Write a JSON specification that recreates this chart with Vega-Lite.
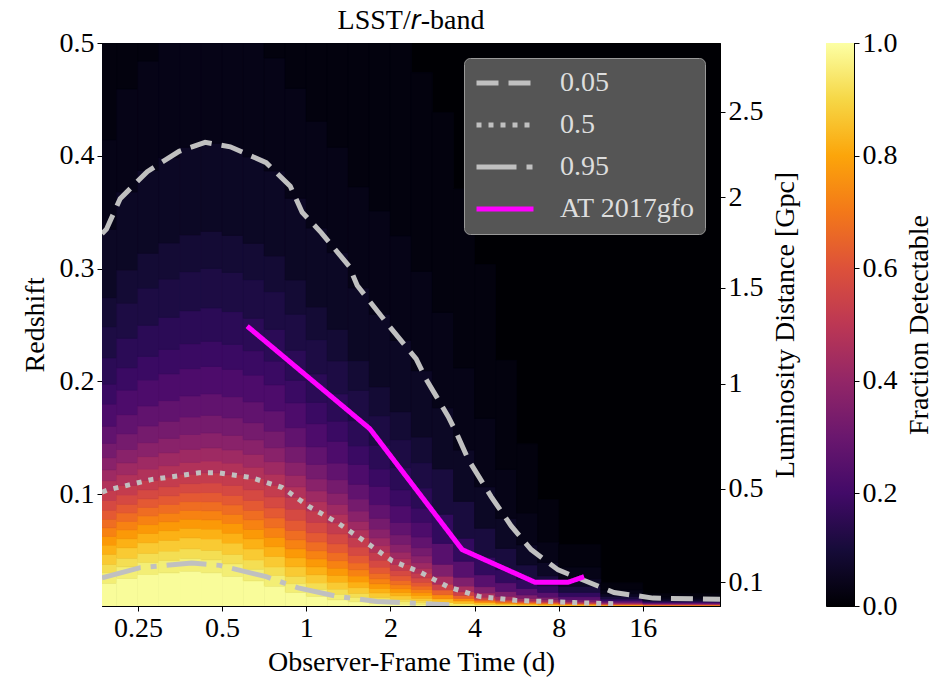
{
"$schema":"https://vega.github.io/schema/vega-lite/v6.json",
"padding":{"left":20,"top":6,"right":5,"bottom":0},
"background":"white",
"bounds":"flush",
"spacing":106,
"datasets":{
"heat":[
{"t0":0.1768,"t1":0.2102,"z0":0.001,"z1":0.0212,"f":0.99},{"t0":0.1768,"t1":0.2102,"z0":0.0212,"z1":0.0306,"f":0.952},{"t0":0.1768,"t1":0.2102,"z0":0.0306,"z1":0.038,"f":0.917},{"t0":0.1768,"t1":0.2102,"z0":0.038,"z1":0.0469,"f":0.875},{"t0":0.1768,"t1":0.2102,"z0":0.0469,"z1":0.055,"f":0.825},{"t0":0.1768,"t1":0.2102,"z0":0.055,"z1":0.0627,"f":0.775},{"t0":0.1768,"t1":0.2102,"z0":0.0627,"z1":0.0703,"f":0.725},{"t0":0.1768,"t1":0.2102,"z0":0.0703,"z1":0.078,"f":0.675},{"t0":0.1768,"t1":0.2102,"z0":0.078,"z1":0.086,"f":0.625},{"t0":0.1768,"t1":0.2102,"z0":0.086,"z1":0.0945,"f":0.575},{"t0":0.1768,"t1":0.2102,"z0":0.0945,"z1":0.1035,"f":0.525},{"t0":0.1768,"t1":0.2102,"z0":0.1035,"z1":0.1121,"f":0.475},{"t0":0.1768,"t1":0.2102,"z0":0.1121,"z1":0.1217,"f":0.425},{"t0":0.1768,"t1":0.2102,"z0":0.1217,"z1":0.1325,"f":0.375},{"t0":0.1768,"t1":0.2102,"z0":0.1325,"z1":0.1452,"f":0.325},{"t0":0.1768,"t1":0.2102,"z0":0.1452,"z1":0.1604,"f":0.275},{"t0":0.1768,"t1":0.2102,"z0":0.1604,"z1":0.18,"f":0.225},{"t0":0.1768,"t1":0.2102,"z0":0.18,"z1":0.1977,"f":0.183},{"t0":0.1768,"t1":0.2102,"z0":0.1977,"z1":0.221,"f":0.148},{"t0":0.1768,"t1":0.2102,"z0":0.221,"z1":0.2486,"f":0.115},{"t0":0.1768,"t1":0.2102,"z0":0.2486,"z1":0.2744,"f":0.09},{"t0":0.1768,"t1":0.2102,"z0":0.2744,"z1":0.335,"f":0.065},{"t0":0.1768,"t1":0.2102,"z0":0.335,"z1":0.4144,"f":0.04},{"t0":0.1768,"t1":0.2102,"z0":0.4144,"z1":0.5,"f":0.022},
{"t0":0.2102,"t1":0.25,"z0":0.001,"z1":0.0255,"f":0.99},{"t0":0.2102,"t1":0.25,"z0":0.0255,"z1":0.0357,"f":0.952},{"t0":0.2102,"t1":0.25,"z0":0.0357,"z1":0.0434,"f":0.917},{"t0":0.2102,"t1":0.25,"z0":0.0434,"z1":0.0526,"f":0.875},{"t0":0.2102,"t1":0.25,"z0":0.0526,"z1":0.0607,"f":0.825},{"t0":0.2102,"t1":0.25,"z0":0.0607,"z1":0.0684,"f":0.775},{"t0":0.2102,"t1":0.25,"z0":0.0684,"z1":0.0759,"f":0.725},{"t0":0.2102,"t1":0.25,"z0":0.0759,"z1":0.0835,"f":0.675},{"t0":0.2102,"t1":0.25,"z0":0.0835,"z1":0.0912,"f":0.625},{"t0":0.2102,"t1":0.25,"z0":0.0912,"z1":0.0994,"f":0.575},{"t0":0.2102,"t1":0.25,"z0":0.0994,"z1":0.108,"f":0.525},{"t0":0.2102,"t1":0.25,"z0":0.108,"z1":0.1174,"f":0.475},{"t0":0.2102,"t1":0.25,"z0":0.1174,"z1":0.1279,"f":0.425},{"t0":0.2102,"t1":0.25,"z0":0.1279,"z1":0.1397,"f":0.375},{"t0":0.2102,"t1":0.25,"z0":0.1397,"z1":0.1537,"f":0.325},{"t0":0.2102,"t1":0.25,"z0":0.1537,"z1":0.1706,"f":0.275},{"t0":0.2102,"t1":0.25,"z0":0.1706,"z1":0.1924,"f":0.225},{"t0":0.2102,"t1":0.25,"z0":0.1924,"z1":0.2122,"f":0.183},{"t0":0.2102,"t1":0.25,"z0":0.2122,"z1":0.2384,"f":0.148},{"t0":0.2102,"t1":0.25,"z0":0.2384,"z1":0.2695,"f":0.115},{"t0":0.2102,"t1":0.25,"z0":0.2695,"z1":0.2988,"f":0.09},{"t0":0.2102,"t1":0.25,"z0":0.2988,"z1":0.368,"f":0.065},{"t0":0.2102,"t1":0.25,"z0":0.368,"z1":0.4594,"f":0.04},{"t0":0.2102,"t1":0.25,"z0":0.4594,"z1":0.5,"f":0.022},
{"t0":0.25,"t1":0.2973,"z0":0.001,"z1":0.0289,"f":0.99},{"t0":0.25,"t1":0.2973,"z0":0.0289,"z1":0.0397,"f":0.952},{"t0":0.25,"t1":0.2973,"z0":0.0397,"z1":0.0477,"f":0.917},{"t0":0.25,"t1":0.2973,"z0":0.0477,"z1":0.0571,"f":0.875},{"t0":0.25,"t1":0.2973,"z0":0.0571,"z1":0.0654,"f":0.825},{"t0":0.25,"t1":0.2973,"z0":0.0654,"z1":0.0732,"f":0.775},{"t0":0.25,"t1":0.2973,"z0":0.0732,"z1":0.0808,"f":0.725},{"t0":0.25,"t1":0.2973,"z0":0.0808,"z1":0.0884,"f":0.675},{"t0":0.25,"t1":0.2973,"z0":0.0884,"z1":0.096,"f":0.625},{"t0":0.25,"t1":0.2973,"z0":0.096,"z1":0.104,"f":0.575},{"t0":0.25,"t1":0.2973,"z0":0.104,"z1":0.1125,"f":0.525},{"t0":0.25,"t1":0.2973,"z0":0.1125,"z1":0.1224,"f":0.475},{"t0":0.25,"t1":0.2973,"z0":0.1224,"z1":0.1334,"f":0.425},{"t0":0.25,"t1":0.2973,"z0":0.1334,"z1":0.1458,"f":0.375},{"t0":0.25,"t1":0.2973,"z0":0.1458,"z1":0.1606,"f":0.325},{"t0":0.25,"t1":0.2973,"z0":0.1606,"z1":0.1783,"f":0.275},{"t0":0.25,"t1":0.2973,"z0":0.1783,"z1":0.2013,"f":0.225},{"t0":0.25,"t1":0.2973,"z0":0.2013,"z1":0.2222,"f":0.183},{"t0":0.25,"t1":0.2973,"z0":0.2222,"z1":0.2499,"f":0.148},{"t0":0.25,"t1":0.2973,"z0":0.2499,"z1":0.2828,"f":0.115},{"t0":0.25,"t1":0.2973,"z0":0.2828,"z1":0.3137,"f":0.09},{"t0":0.25,"t1":0.2973,"z0":0.3137,"z1":0.387,"f":0.065},{"t0":0.25,"t1":0.2973,"z0":0.387,"z1":0.484,"f":0.04},{"t0":0.25,"t1":0.2973,"z0":0.484,"z1":0.5,"f":0.022},
{"t0":0.2973,"t1":0.3536,"z0":0.001,"z1":0.0304,"f":0.99},{"t0":0.2973,"t1":0.3536,"z0":0.0304,"z1":0.0415,"f":0.952},{"t0":0.2973,"t1":0.3536,"z0":0.0415,"z1":0.0497,"f":0.917},{"t0":0.2973,"t1":0.3536,"z0":0.0497,"z1":0.0593,"f":0.875},{"t0":0.2973,"t1":0.3536,"z0":0.0593,"z1":0.0678,"f":0.825},{"t0":0.2973,"t1":0.3536,"z0":0.0678,"z1":0.0757,"f":0.775},{"t0":0.2973,"t1":0.3536,"z0":0.0757,"z1":0.0833,"f":0.725},{"t0":0.2973,"t1":0.3536,"z0":0.0833,"z1":0.091,"f":0.675},{"t0":0.2973,"t1":0.3536,"z0":0.091,"z1":0.0987,"f":0.625},{"t0":0.2973,"t1":0.3536,"z0":0.0987,"z1":0.1068,"f":0.575},{"t0":0.2973,"t1":0.3536,"z0":0.1068,"z1":0.1153,"f":0.525},{"t0":0.2973,"t1":0.3536,"z0":0.1153,"z1":0.1254,"f":0.475},{"t0":0.2973,"t1":0.3536,"z0":0.1254,"z1":0.1368,"f":0.425},{"t0":0.2973,"t1":0.3536,"z0":0.1368,"z1":0.1496,"f":0.375},{"t0":0.2973,"t1":0.3536,"z0":0.1496,"z1":0.1648,"f":0.325},{"t0":0.2973,"t1":0.3536,"z0":0.1648,"z1":0.1831,"f":0.275},{"t0":0.2973,"t1":0.3536,"z0":0.1831,"z1":0.2068,"f":0.225},{"t0":0.2973,"t1":0.3536,"z0":0.2068,"z1":0.2284,"f":0.183},{"t0":0.2973,"t1":0.3536,"z0":0.2284,"z1":0.2569,"f":0.148},{"t0":0.2973,"t1":0.3536,"z0":0.2569,"z1":0.2908,"f":0.115},{"t0":0.2973,"t1":0.3536,"z0":0.2908,"z1":0.3228,"f":0.09},{"t0":0.2973,"t1":0.3536,"z0":0.3228,"z1":0.3985,"f":0.065},{"t0":0.2973,"t1":0.3536,"z0":0.3985,"z1":0.5,"f":0.04},
{"t0":0.3536,"t1":0.4204,"z0":0.001,"z1":0.0319,"f":0.99},{"t0":0.3536,"t1":0.4204,"z0":0.0319,"z1":0.0433,"f":0.952},{"t0":0.3536,"t1":0.4204,"z0":0.0433,"z1":0.0517,"f":0.917},{"t0":0.3536,"t1":0.4204,"z0":0.0517,"z1":0.0614,"f":0.875},{"t0":0.3536,"t1":0.4204,"z0":0.0614,"z1":0.07,"f":0.825},{"t0":0.3536,"t1":0.4204,"z0":0.07,"z1":0.078,"f":0.775},{"t0":0.3536,"t1":0.4204,"z0":0.078,"z1":0.0857,"f":0.725},{"t0":0.3536,"t1":0.4204,"z0":0.0857,"z1":0.0935,"f":0.675},{"t0":0.3536,"t1":0.4204,"z0":0.0935,"z1":0.1012,"f":0.625},{"t0":0.3536,"t1":0.4204,"z0":0.1012,"z1":0.1094,"f":0.575},{"t0":0.3536,"t1":0.4204,"z0":0.1094,"z1":0.1179,"f":0.525},{"t0":0.3536,"t1":0.4204,"z0":0.1179,"z1":0.1283,"f":0.475},{"t0":0.3536,"t1":0.4204,"z0":0.1283,"z1":0.1399,"f":0.425},{"t0":0.3536,"t1":0.4204,"z0":0.1399,"z1":0.153,"f":0.375},{"t0":0.3536,"t1":0.4204,"z0":0.153,"z1":0.1685,"f":0.325},{"t0":0.3536,"t1":0.4204,"z0":0.1685,"z1":0.1872,"f":0.275},{"t0":0.3536,"t1":0.4204,"z0":0.1872,"z1":0.2114,"f":0.225},{"t0":0.3536,"t1":0.4204,"z0":0.2114,"z1":0.2335,"f":0.183},{"t0":0.3536,"t1":0.4204,"z0":0.2335,"z1":0.2627,"f":0.148},{"t0":0.3536,"t1":0.4204,"z0":0.2627,"z1":0.2974,"f":0.115},{"t0":0.3536,"t1":0.4204,"z0":0.2974,"z1":0.33,"f":0.09},{"t0":0.3536,"t1":0.4204,"z0":0.33,"z1":0.4075,"f":0.065},{"t0":0.3536,"t1":0.4204,"z0":0.4075,"z1":0.5,"f":0.04},
{"t0":0.4204,"t1":0.5,"z0":0.001,"z1":0.0305,"f":0.99},{"t0":0.4204,"t1":0.5,"z0":0.0305,"z1":0.0419,"f":0.952},{"t0":0.4204,"t1":0.5,"z0":0.0419,"z1":0.0504,"f":0.917},{"t0":0.4204,"t1":0.5,"z0":0.0504,"z1":0.0604,"f":0.875},{"t0":0.4204,"t1":0.5,"z0":0.0604,"z1":0.0692,"f":0.825},{"t0":0.4204,"t1":0.5,"z0":0.0692,"z1":0.0774,"f":0.775},{"t0":0.4204,"t1":0.5,"z0":0.0774,"z1":0.0854,"f":0.725},{"t0":0.4204,"t1":0.5,"z0":0.0854,"z1":0.0934,"f":0.675},{"t0":0.4204,"t1":0.5,"z0":0.0934,"z1":0.1015,"f":0.625},{"t0":0.4204,"t1":0.5,"z0":0.1015,"z1":0.11,"f":0.575},{"t0":0.4204,"t1":0.5,"z0":0.11,"z1":0.119,"f":0.525},{"t0":0.4204,"t1":0.5,"z0":0.119,"z1":0.1295,"f":0.475},{"t0":0.4204,"t1":0.5,"z0":0.1295,"z1":0.1412,"f":0.425},{"t0":0.4204,"t1":0.5,"z0":0.1412,"z1":0.1544,"f":0.375},{"t0":0.4204,"t1":0.5,"z0":0.1544,"z1":0.1701,"f":0.325},{"t0":0.4204,"t1":0.5,"z0":0.1701,"z1":0.189,"f":0.275},{"t0":0.4204,"t1":0.5,"z0":0.189,"z1":0.2134,"f":0.225},{"t0":0.4204,"t1":0.5,"z0":0.2134,"z1":0.2357,"f":0.183},{"t0":0.4204,"t1":0.5,"z0":0.2357,"z1":0.2652,"f":0.148},{"t0":0.4204,"t1":0.5,"z0":0.2652,"z1":0.3002,"f":0.115},{"t0":0.4204,"t1":0.5,"z0":0.3002,"z1":0.3331,"f":0.09},{"t0":0.4204,"t1":0.5,"z0":0.3331,"z1":0.411,"f":0.065},{"t0":0.4204,"t1":0.5,"z0":0.411,"z1":0.5,"f":0.04},
{"t0":0.5,"t1":0.5946,"z0":0.001,"z1":0.0274,"f":0.99},{"t0":0.5,"t1":0.5946,"z0":0.0274,"z1":0.0384,"f":0.952},{"t0":0.5,"t1":0.5946,"z0":0.0384,"z1":0.0468,"f":0.917},{"t0":0.5,"t1":0.5946,"z0":0.0468,"z1":0.0568,"f":0.875},{"t0":0.5,"t1":0.5946,"z0":0.0568,"z1":0.0656,"f":0.825},{"t0":0.5,"t1":0.5946,"z0":0.0656,"z1":0.0741,"f":0.775},{"t0":0.5,"t1":0.5946,"z0":0.0741,"z1":0.0822,"f":0.725},{"t0":0.5,"t1":0.5946,"z0":0.0822,"z1":0.0906,"f":0.675},{"t0":0.5,"t1":0.5946,"z0":0.0906,"z1":0.099,"f":0.625},{"t0":0.5,"t1":0.5946,"z0":0.099,"z1":0.1079,"f":0.575},{"t0":0.5,"t1":0.5946,"z0":0.1079,"z1":0.1173,"f":0.525},{"t0":0.5,"t1":0.5946,"z0":0.1173,"z1":0.1277,"f":0.475},{"t0":0.5,"t1":0.5946,"z0":0.1277,"z1":0.1393,"f":0.425},{"t0":0.5,"t1":0.5946,"z0":0.1393,"z1":0.1523,"f":0.375},{"t0":0.5,"t1":0.5946,"z0":0.1523,"z1":0.1678,"f":0.325},{"t0":0.5,"t1":0.5946,"z0":0.1678,"z1":0.1866,"f":0.275},{"t0":0.5,"t1":0.5946,"z0":0.1866,"z1":0.2108,"f":0.225},{"t0":0.5,"t1":0.5946,"z0":0.2108,"z1":0.2328,"f":0.183},{"t0":0.5,"t1":0.5946,"z0":0.2328,"z1":0.262,"f":0.148},{"t0":0.5,"t1":0.5946,"z0":0.262,"z1":0.2967,"f":0.115},{"t0":0.5,"t1":0.5946,"z0":0.2967,"z1":0.3294,"f":0.09},{"t0":0.5,"t1":0.5946,"z0":0.3294,"z1":0.407,"f":0.065},{"t0":0.5,"t1":0.5946,"z0":0.407,"z1":0.5,"f":0.04},
{"t0":0.5946,"t1":0.7071,"z0":0.001,"z1":0.0233,"f":0.99},{"t0":0.5946,"t1":0.7071,"z0":0.0233,"z1":0.0337,"f":0.952},{"t0":0.5946,"t1":0.7071,"z0":0.0337,"z1":0.0418,"f":0.917},{"t0":0.5946,"t1":0.7071,"z0":0.0418,"z1":0.0516,"f":0.875},{"t0":0.5946,"t1":0.7071,"z0":0.0516,"z1":0.0605,"f":0.825},{"t0":0.5946,"t1":0.7071,"z0":0.0605,"z1":0.069,"f":0.775},{"t0":0.5946,"t1":0.7071,"z0":0.069,"z1":0.0774,"f":0.725},{"t0":0.5946,"t1":0.7071,"z0":0.0774,"z1":0.0859,"f":0.675},{"t0":0.5946,"t1":0.7071,"z0":0.0859,"z1":0.0947,"f":0.625},{"t0":0.5946,"t1":0.7071,"z0":0.0947,"z1":0.104,"f":0.575},{"t0":0.5946,"t1":0.7071,"z0":0.104,"z1":0.114,"f":0.525},{"t0":0.5946,"t1":0.7071,"z0":0.114,"z1":0.1241,"f":0.475},{"t0":0.5946,"t1":0.7071,"z0":0.1241,"z1":0.1355,"f":0.425},{"t0":0.5946,"t1":0.7071,"z0":0.1355,"z1":0.1483,"f":0.375},{"t0":0.5946,"t1":0.7071,"z0":0.1483,"z1":0.1635,"f":0.325},{"t0":0.5946,"t1":0.7071,"z0":0.1635,"z1":0.1819,"f":0.275},{"t0":0.5946,"t1":0.7071,"z0":0.1819,"z1":0.2057,"f":0.225},{"t0":0.5946,"t1":0.7071,"z0":0.2057,"z1":0.2273,"f":0.183},{"t0":0.5946,"t1":0.7071,"z0":0.2273,"z1":0.2561,"f":0.148},{"t0":0.5946,"t1":0.7071,"z0":0.2561,"z1":0.2903,"f":0.115},{"t0":0.5946,"t1":0.7071,"z0":0.2903,"z1":0.3225,"f":0.09},{"t0":0.5946,"t1":0.7071,"z0":0.3225,"z1":0.399,"f":0.065},{"t0":0.5946,"t1":0.7071,"z0":0.399,"z1":0.5,"f":0.04},
{"t0":0.7071,"t1":0.8409,"z0":0.001,"z1":0.0186,"f":0.99},{"t0":0.7071,"t1":0.8409,"z0":0.0186,"z1":0.0281,"f":0.952},{"t0":0.7071,"t1":0.8409,"z0":0.0281,"z1":0.0356,"f":0.917},{"t0":0.7071,"t1":0.8409,"z0":0.0356,"z1":0.045,"f":0.875},{"t0":0.7071,"t1":0.8409,"z0":0.045,"z1":0.0536,"f":0.825},{"t0":0.7071,"t1":0.8409,"z0":0.0536,"z1":0.062,"f":0.775},{"t0":0.7071,"t1":0.8409,"z0":0.062,"z1":0.0704,"f":0.725},{"t0":0.7071,"t1":0.8409,"z0":0.0704,"z1":0.0791,"f":0.675},{"t0":0.7071,"t1":0.8409,"z0":0.0791,"z1":0.088,"f":0.625},{"t0":0.7071,"t1":0.8409,"z0":0.088,"z1":0.0977,"f":0.575},{"t0":0.7071,"t1":0.8409,"z0":0.0977,"z1":0.1081,"f":0.525},{"t0":0.7071,"t1":0.8409,"z0":0.1081,"z1":0.1179,"f":0.475},{"t0":0.7071,"t1":0.8409,"z0":0.1179,"z1":0.1289,"f":0.425},{"t0":0.7071,"t1":0.8409,"z0":0.1289,"z1":0.1413,"f":0.375},{"t0":0.7071,"t1":0.8409,"z0":0.1413,"z1":0.156,"f":0.325},{"t0":0.7071,"t1":0.8409,"z0":0.156,"z1":0.1739,"f":0.275},{"t0":0.7071,"t1":0.8409,"z0":0.1739,"z1":0.197,"f":0.225},{"t0":0.7071,"t1":0.8409,"z0":0.197,"z1":0.2181,"f":0.183},{"t0":0.7071,"t1":0.8409,"z0":0.2181,"z1":0.2462,"f":0.148},{"t0":0.7071,"t1":0.8409,"z0":0.2462,"z1":0.2797,"f":0.115},{"t0":0.7071,"t1":0.8409,"z0":0.2797,"z1":0.3113,"f":0.09},{"t0":0.7071,"t1":0.8409,"z0":0.3113,"z1":0.3866,"f":0.065},{"t0":0.7071,"t1":0.8409,"z0":0.3866,"z1":0.4868,"f":0.04},{"t0":0.7071,"t1":0.8409,"z0":0.4868,"z1":0.5,"f":0.022},
{"t0":0.8409,"t1":1,"z0":0.001,"z1":0.0131,"f":0.99},{"t0":0.8409,"t1":1,"z0":0.0131,"z1":0.0209,"f":0.952},{"t0":0.8409,"t1":1,"z0":0.0209,"z1":0.0274,"f":0.917},{"t0":0.8409,"t1":1,"z0":0.0274,"z1":0.0358,"f":0.875},{"t0":0.8409,"t1":1,"z0":0.0358,"z1":0.0438,"f":0.825},{"t0":0.8409,"t1":1,"z0":0.0438,"z1":0.0517,"f":0.775},{"t0":0.8409,"t1":1,"z0":0.0517,"z1":0.0597,"f":0.725},{"t0":0.8409,"t1":1,"z0":0.0597,"z1":0.0682,"f":0.675},{"t0":0.8409,"t1":1,"z0":0.0682,"z1":0.0771,"f":0.625},{"t0":0.8409,"t1":1,"z0":0.0771,"z1":0.0869,"f":0.575},{"t0":0.8409,"t1":1,"z0":0.0869,"z1":0.0975,"f":0.525},{"t0":0.8409,"t1":1,"z0":0.0975,"z1":0.1066,"f":0.475},{"t0":0.8409,"t1":1,"z0":0.1066,"z1":0.1169,"f":0.425},{"t0":0.8409,"t1":1,"z0":0.1169,"z1":0.1285,"f":0.375},{"t0":0.8409,"t1":1,"z0":0.1285,"z1":0.1423,"f":0.325},{"t0":0.8409,"t1":1,"z0":0.1423,"z1":0.1591,"f":0.275},{"t0":0.8409,"t1":1,"z0":0.1591,"z1":0.181,"f":0.225},{"t0":0.8409,"t1":1,"z0":0.181,"z1":0.201,"f":0.183},{"t0":0.8409,"t1":1,"z0":0.201,"z1":0.2277,"f":0.148},{"t0":0.8409,"t1":1,"z0":0.2277,"z1":0.2597,"f":0.115},{"t0":0.8409,"t1":1,"z0":0.2597,"z1":0.29,"f":0.09},{"t0":0.8409,"t1":1,"z0":0.29,"z1":0.3625,"f":0.065},{"t0":0.8409,"t1":1,"z0":0.3625,"z1":0.4598,"f":0.04},{"t0":0.8409,"t1":1,"z0":0.4598,"z1":0.5,"f":0.022},
{"t0":1,"t1":1.1892,"z0":0.001,"z1":0.0096,"f":0.99},{"t0":1,"t1":1.1892,"z0":0.0096,"z1":0.0159,"f":0.952},{"t0":1,"t1":1.1892,"z0":0.0159,"z1":0.0214,"f":0.917},{"t0":1,"t1":1.1892,"z0":0.0214,"z1":0.0287,"f":0.875},{"t0":1,"t1":1.1892,"z0":0.0287,"z1":0.0357,"f":0.825},{"t0":1,"t1":1.1892,"z0":0.0357,"z1":0.0427,"f":0.775},{"t0":1,"t1":1.1892,"z0":0.0427,"z1":0.05,"f":0.725},{"t0":1,"t1":1.1892,"z0":0.05,"z1":0.0578,"f":0.675},{"t0":1,"t1":1.1892,"z0":0.0578,"z1":0.066,"f":0.625},{"t0":1,"t1":1.1892,"z0":0.066,"z1":0.0751,"f":0.575},{"t0":1,"t1":1.1892,"z0":0.0751,"z1":0.0852,"f":0.525},{"t0":1,"t1":1.1892,"z0":0.0852,"z1":0.0935,"f":0.475},{"t0":1,"t1":1.1892,"z0":0.0935,"z1":0.103,"f":0.425},{"t0":1,"t1":1.1892,"z0":0.103,"z1":0.1136,"f":0.375},{"t0":1,"t1":1.1892,"z0":0.1136,"z1":0.1265,"f":0.325},{"t0":1,"t1":1.1892,"z0":0.1265,"z1":0.1421,"f":0.275},{"t0":1,"t1":1.1892,"z0":0.1421,"z1":0.1626,"f":0.225},{"t0":1,"t1":1.1892,"z0":0.1626,"z1":0.1815,"f":0.183},{"t0":1,"t1":1.1892,"z0":0.1815,"z1":0.2067,"f":0.148},{"t0":1,"t1":1.1892,"z0":0.2067,"z1":0.2371,"f":0.115},{"t0":1,"t1":1.1892,"z0":0.2371,"z1":0.2661,"f":0.09},{"t0":1,"t1":1.1892,"z0":0.2661,"z1":0.336,"f":0.065},{"t0":1,"t1":1.1892,"z0":0.336,"z1":0.4307,"f":0.04},{"t0":1,"t1":1.1892,"z0":0.4307,"z1":0.5,"f":0.022},
{"t0":1.1892,"t1":1.4142,"z0":0.001,"z1":0.0065,"f":0.99},{"t0":1.1892,"t1":1.4142,"z0":0.0065,"z1":0.0115,"f":0.952},{"t0":1.1892,"t1":1.4142,"z0":0.0115,"z1":0.016,"f":0.917},{"t0":1.1892,"t1":1.4142,"z0":0.016,"z1":0.0222,"f":0.875},{"t0":1.1892,"t1":1.4142,"z0":0.0222,"z1":0.0283,"f":0.825},{"t0":1.1892,"t1":1.4142,"z0":0.0283,"z1":0.0346,"f":0.775},{"t0":1.1892,"t1":1.4142,"z0":0.0346,"z1":0.0412,"f":0.725},{"t0":1.1892,"t1":1.4142,"z0":0.0412,"z1":0.0484,"f":0.675},{"t0":1.1892,"t1":1.4142,"z0":0.0484,"z1":0.0562,"f":0.625},{"t0":1.1892,"t1":1.4142,"z0":0.0562,"z1":0.0649,"f":0.575},{"t0":1.1892,"t1":1.4142,"z0":0.0649,"z1":0.0747,"f":0.525},{"t0":1.1892,"t1":1.4142,"z0":0.0747,"z1":0.0824,"f":0.475},{"t0":1.1892,"t1":1.4142,"z0":0.0824,"z1":0.0911,"f":0.425},{"t0":1.1892,"t1":1.4142,"z0":0.0911,"z1":0.101,"f":0.375},{"t0":1.1892,"t1":1.4142,"z0":0.101,"z1":0.113,"f":0.325},{"t0":1.1892,"t1":1.4142,"z0":0.113,"z1":0.1277,"f":0.275},{"t0":1.1892,"t1":1.4142,"z0":0.1277,"z1":0.147,"f":0.225},{"t0":1.1892,"t1":1.4142,"z0":0.147,"z1":0.1649,"f":0.183},{"t0":1.1892,"t1":1.4142,"z0":0.1649,"z1":0.189,"f":0.148},{"t0":1.1892,"t1":1.4142,"z0":0.189,"z1":0.2182,"f":0.115},{"t0":1.1892,"t1":1.4142,"z0":0.2182,"z1":0.2462,"f":0.09},{"t0":1.1892,"t1":1.4142,"z0":0.2462,"z1":0.3143,"f":0.065},{"t0":1.1892,"t1":1.4142,"z0":0.3143,"z1":0.4077,"f":0.04},{"t0":1.1892,"t1":1.4142,"z0":0.4077,"z1":0.5,"f":0.022},
{"t0":1.4142,"t1":1.6818,"z0":0.001,"z1":0.0048,"f":0.99},{"t0":1.4142,"t1":1.6818,"z0":0.0048,"z1":0.0087,"f":0.952},{"t0":1.4142,"t1":1.6818,"z0":0.0087,"z1":0.0123,"f":0.917},{"t0":1.4142,"t1":1.6818,"z0":0.0123,"z1":0.0173,"f":0.875},{"t0":1.4142,"t1":1.6818,"z0":0.0173,"z1":0.0223,"f":0.825},{"t0":1.4142,"t1":1.6818,"z0":0.0223,"z1":0.0276,"f":0.775},{"t0":1.4142,"t1":1.6818,"z0":0.0276,"z1":0.0331,"f":0.725},{"t0":1.4142,"t1":1.6818,"z0":0.0331,"z1":0.0392,"f":0.675},{"t0":1.4142,"t1":1.6818,"z0":0.0392,"z1":0.0458,"f":0.625},{"t0":1.4142,"t1":1.6818,"z0":0.0458,"z1":0.0533,"f":0.575},{"t0":1.4142,"t1":1.6818,"z0":0.0533,"z1":0.0618,"f":0.525},{"t0":1.4142,"t1":1.6818,"z0":0.0618,"z1":0.0685,"f":0.475},{"t0":1.4142,"t1":1.6818,"z0":0.0685,"z1":0.0762,"f":0.425},{"t0":1.4142,"t1":1.6818,"z0":0.0762,"z1":0.0851,"f":0.375},{"t0":1.4142,"t1":1.6818,"z0":0.0851,"z1":0.0958,"f":0.325},{"t0":1.4142,"t1":1.6818,"z0":0.0958,"z1":0.109,"f":0.275},{"t0":1.4142,"t1":1.6818,"z0":0.109,"z1":0.1265,"f":0.225},{"t0":1.4142,"t1":1.6818,"z0":0.1265,"z1":0.1429,"f":0.183},{"t0":1.4142,"t1":1.6818,"z0":0.1429,"z1":0.1652,"f":0.148},{"t0":1.4142,"t1":1.6818,"z0":0.1652,"z1":0.1923,"f":0.115},{"t0":1.4142,"t1":1.6818,"z0":0.1923,"z1":0.2185,"f":0.09},{"t0":1.4142,"t1":1.6818,"z0":0.2185,"z1":0.283,"f":0.065},{"t0":1.4142,"t1":1.6818,"z0":0.283,"z1":0.3727,"f":0.04},{"t0":1.4142,"t1":1.6818,"z0":0.3727,"z1":0.5,"f":0.022},
{"t0":1.6818,"t1":2,"z0":0.001,"z1":0.0032,"f":0.99},{"t0":1.6818,"t1":2,"z0":0.0032,"z1":0.0061,"f":0.952},{"t0":1.6818,"t1":2,"z0":0.0061,"z1":0.0088,"f":0.917},{"t0":1.6818,"t1":2,"z0":0.0088,"z1":0.0126,"f":0.875},{"t0":1.6818,"t1":2,"z0":0.0126,"z1":0.0165,"f":0.825},{"t0":1.6818,"t1":2,"z0":0.0165,"z1":0.0207,"f":0.775},{"t0":1.6818,"t1":2,"z0":0.0207,"z1":0.0251,"f":0.725},{"t0":1.6818,"t1":2,"z0":0.0251,"z1":0.0301,"f":0.675},{"t0":1.6818,"t1":2,"z0":0.0301,"z1":0.0355,"f":0.625},{"t0":1.6818,"t1":2,"z0":0.0355,"z1":0.0417,"f":0.575},{"t0":1.6818,"t1":2,"z0":0.0417,"z1":0.0487,"f":0.525},{"t0":1.6818,"t1":2,"z0":0.0487,"z1":0.0546,"f":0.475},{"t0":1.6818,"t1":2,"z0":0.0546,"z1":0.0613,"f":0.425},{"t0":1.6818,"t1":2,"z0":0.0613,"z1":0.0692,"f":0.375},{"t0":1.6818,"t1":2,"z0":0.0692,"z1":0.0788,"f":0.325},{"t0":1.6818,"t1":2,"z0":0.0788,"z1":0.0909,"f":0.275},{"t0":1.6818,"t1":2,"z0":0.0909,"z1":0.1071,"f":0.225},{"t0":1.6818,"t1":2,"z0":0.1071,"z1":0.1224,"f":0.183},{"t0":1.6818,"t1":2,"z0":0.1224,"z1":0.1435,"f":0.148},{"t0":1.6818,"t1":2,"z0":0.1435,"z1":0.1697,"f":0.115},{"t0":1.6818,"t1":2,"z0":0.1697,"z1":0.1953,"f":0.09},{"t0":1.6818,"t1":2,"z0":0.1953,"z1":0.2595,"f":0.065},{"t0":1.6818,"t1":2,"z0":0.2595,"z1":0.3513,"f":0.04},{"t0":1.6818,"t1":2,"z0":0.3513,"z1":0.5,"f":0.022},
{"t0":2,"t1":2.3784,"z0":0.001,"z1":0.0027,"f":0.99},{"t0":2,"t1":2.3784,"z0":0.0027,"z1":0.0049,"f":0.952},{"t0":2,"t1":2.3784,"z0":0.0049,"z1":0.0071,"f":0.917},{"t0":2,"t1":2.3784,"z0":0.0071,"z1":0.0101,"f":0.875},{"t0":2,"t1":2.3784,"z0":0.0101,"z1":0.0131,"f":0.825},{"t0":2,"t1":2.3784,"z0":0.0131,"z1":0.0164,"f":0.775},{"t0":2,"t1":2.3784,"z0":0.0164,"z1":0.0198,"f":0.725},{"t0":2,"t1":2.3784,"z0":0.0198,"z1":0.0236,"f":0.675},{"t0":2,"t1":2.3784,"z0":0.0236,"z1":0.0278,"f":0.625},{"t0":2,"t1":2.3784,"z0":0.0278,"z1":0.0325,"f":0.575},{"t0":2,"t1":2.3784,"z0":0.0325,"z1":0.0379,"f":0.525},{"t0":2,"t1":2.3784,"z0":0.0379,"z1":0.0429,"f":0.475},{"t0":2,"t1":2.3784,"z0":0.0429,"z1":0.0488,"f":0.425},{"t0":2,"t1":2.3784,"z0":0.0488,"z1":0.0557,"f":0.375},{"t0":2,"t1":2.3784,"z0":0.0557,"z1":0.0642,"f":0.325},{"t0":2,"t1":2.3784,"z0":0.0642,"z1":0.075,"f":0.275},{"t0":2,"t1":2.3784,"z0":0.075,"z1":0.0898,"f":0.225},{"t0":2,"t1":2.3784,"z0":0.0898,"z1":0.1039,"f":0.183},{"t0":2,"t1":2.3784,"z0":0.1039,"z1":0.1237,"f":0.148},{"t0":2,"t1":2.3784,"z0":0.1237,"z1":0.1485,"f":0.115},{"t0":2,"t1":2.3784,"z0":0.1485,"z1":0.1732,"f":0.09},{"t0":2,"t1":2.3784,"z0":0.1732,"z1":0.2364,"f":0.065},{"t0":2,"t1":2.3784,"z0":0.2364,"z1":0.3293,"f":0.04},{"t0":2,"t1":2.3784,"z0":0.3293,"z1":0.5,"f":0.022},
{"t0":2.3784,"t1":2.8284,"z0":0.001,"z1":0.0021,"f":0.99},{"t0":2.3784,"t1":2.8284,"z0":0.0021,"z1":0.0038,"f":0.952},{"t0":2.3784,"t1":2.8284,"z0":0.0038,"z1":0.0055,"f":0.917},{"t0":2.3784,"t1":2.8284,"z0":0.0055,"z1":0.0079,"f":0.875},{"t0":2.3784,"t1":2.8284,"z0":0.0079,"z1":0.0103,"f":0.825},{"t0":2.3784,"t1":2.8284,"z0":0.0103,"z1":0.0129,"f":0.775},{"t0":2.3784,"t1":2.8284,"z0":0.0129,"z1":0.0157,"f":0.725},{"t0":2.3784,"t1":2.8284,"z0":0.0157,"z1":0.0187,"f":0.675},{"t0":2.3784,"t1":2.8284,"z0":0.0187,"z1":0.0221,"f":0.625},{"t0":2.3784,"t1":2.8284,"z0":0.0221,"z1":0.0259,"f":0.575},{"t0":2.3784,"t1":2.8284,"z0":0.0259,"z1":0.0302,"f":0.525},{"t0":2.3784,"t1":2.8284,"z0":0.0302,"z1":0.0345,"f":0.475},{"t0":2.3784,"t1":2.8284,"z0":0.0345,"z1":0.0395,"f":0.425},{"t0":2.3784,"t1":2.8284,"z0":0.0395,"z1":0.0454,"f":0.375},{"t0":2.3784,"t1":2.8284,"z0":0.0454,"z1":0.0528,"f":0.325},{"t0":2.3784,"t1":2.8284,"z0":0.0528,"z1":0.0622,"f":0.275},{"t0":2.3784,"t1":2.8284,"z0":0.0622,"z1":0.0752,"f":0.225},{"t0":2.3784,"t1":2.8284,"z0":0.0752,"z1":0.0878,"f":0.183},{"t0":2.3784,"t1":2.8284,"z0":0.0878,"z1":0.1056,"f":0.148},{"t0":2.3784,"t1":2.8284,"z0":0.1056,"z1":0.1281,"f":0.115},{"t0":2.3784,"t1":2.8284,"z0":0.1281,"z1":0.1508,"f":0.09},{"t0":2.3784,"t1":2.8284,"z0":0.1508,"z1":0.2096,"f":0.065},{"t0":2.3784,"t1":2.8284,"z0":0.2096,"z1":0.2976,"f":0.04},{"t0":2.3784,"t1":2.8284,"z0":0.2976,"z1":0.4738,"f":0.022},
{"t0":2.8284,"t1":3.3636,"z0":0.001,"z1":0.0016,"f":0.99},{"t0":2.8284,"t1":3.3636,"z0":0.0016,"z1":0.0041,"f":0.935},{"t0":2.8284,"t1":3.3636,"z0":0.0041,"z1":0.0074,"f":0.85},{"t0":2.8284,"t1":3.3636,"z0":0.0074,"z1":0.011,"f":0.75},{"t0":2.8284,"t1":3.3636,"z0":0.011,"z1":0.0152,"f":0.65},{"t0":2.8284,"t1":3.3636,"z0":0.0152,"z1":0.0204,"f":0.55},{"t0":2.8284,"t1":3.3636,"z0":0.0204,"z1":0.0275,"f":0.45},{"t0":2.8284,"t1":3.3636,"z0":0.0275,"z1":0.038,"f":0.35},{"t0":2.8284,"t1":3.3636,"z0":0.038,"z1":0.0564,"f":0.25},{"t0":2.8284,"t1":3.3636,"z0":0.0564,"z1":0.0823,"f":0.165},{"t0":2.8284,"t1":3.3636,"z0":0.0823,"z1":0.1224,"f":0.105},{"t0":2.8284,"t1":3.3636,"z0":0.1224,"z1":0.1767,"f":0.065},{"t0":2.8284,"t1":3.3636,"z0":0.1767,"z1":0.2612,"f":0.04},{"t0":2.8284,"t1":3.3636,"z0":0.2612,"z1":0.4385,"f":0.022},
{"t0":3.3636,"t1":4,"z0":0.001,"z1":0.0014,"f":0.99},{"t0":3.3636,"t1":4,"z0":0.0014,"z1":0.0033,"f":0.935},{"t0":3.3636,"t1":4,"z0":0.0033,"z1":0.0055,"f":0.85},{"t0":3.3636,"t1":4,"z0":0.0055,"z1":0.0078,"f":0.75},{"t0":3.3636,"t1":4,"z0":0.0078,"z1":0.0104,"f":0.65},{"t0":3.3636,"t1":4,"z0":0.0104,"z1":0.0136,"f":0.55},{"t0":3.3636,"t1":4,"z0":0.0136,"z1":0.0187,"f":0.45},{"t0":3.3636,"t1":4,"z0":0.0187,"z1":0.0266,"f":0.35},{"t0":3.3636,"t1":4,"z0":0.0266,"z1":0.0407,"f":0.25},{"t0":3.3636,"t1":4,"z0":0.0407,"z1":0.0611,"f":0.165},{"t0":3.3636,"t1":4,"z0":0.0611,"z1":0.0937,"f":0.105},{"t0":3.3636,"t1":4,"z0":0.0937,"z1":0.1392,"f":0.065},{"t0":3.3636,"t1":4,"z0":0.1392,"z1":0.2121,"f":0.04},{"t0":3.3636,"t1":4,"z0":0.2121,"z1":0.3706,"f":0.022},
{"t0":4,"t1":4.7568,"z0":0.001,"z1":0.0013,"f":0.99},{"t0":4,"t1":4.7568,"z0":0.0013,"z1":0.0026,"f":0.935},{"t0":4,"t1":4.7568,"z0":0.0026,"z1":0.0041,"f":0.85},{"t0":4,"t1":4.7568,"z0":0.0041,"z1":0.0055,"f":0.75},{"t0":4,"t1":4.7568,"z0":0.0055,"z1":0.0071,"f":0.65},{"t0":4,"t1":4.7568,"z0":0.0071,"z1":0.0089,"f":0.55},{"t0":4,"t1":4.7568,"z0":0.0089,"z1":0.0125,"f":0.45},{"t0":4,"t1":4.7568,"z0":0.0125,"z1":0.0182,"f":0.35},{"t0":4,"t1":4.7568,"z0":0.0182,"z1":0.0287,"f":0.25},{"t0":4,"t1":4.7568,"z0":0.0287,"z1":0.0443,"f":0.165},{"t0":4,"t1":4.7568,"z0":0.0443,"z1":0.07,"f":0.105},{"t0":4,"t1":4.7568,"z0":0.07,"z1":0.1067,"f":0.065},{"t0":4,"t1":4.7568,"z0":0.1067,"z1":0.1673,"f":0.04},{"t0":4,"t1":4.7568,"z0":0.1673,"z1":0.3037,"f":0.022},
{"t0":4.7568,"t1":5.6569,"z0":0.001,"z1":0.0022,"f":0.935},{"t0":4.7568,"t1":5.6569,"z0":0.0022,"z1":0.0034,"f":0.85},{"t0":4.7568,"t1":5.6569,"z0":0.0034,"z1":0.0044,"f":0.75},{"t0":4.7568,"t1":5.6569,"z0":0.0044,"z1":0.0056,"f":0.65},{"t0":4.7568,"t1":5.6569,"z0":0.0056,"z1":0.0069,"f":0.55},{"t0":4.7568,"t1":5.6569,"z0":0.0069,"z1":0.0097,"f":0.45},{"t0":4.7568,"t1":5.6569,"z0":0.0097,"z1":0.0139,"f":0.35},{"t0":4.7568,"t1":5.6569,"z0":0.0139,"z1":0.0217,"f":0.25},{"t0":4.7568,"t1":5.6569,"z0":0.0217,"z1":0.0332,"f":0.165},{"t0":4.7568,"t1":5.6569,"z0":0.0332,"z1":0.052,"f":0.105},{"t0":4.7568,"t1":5.6569,"z0":0.052,"z1":0.0786,"f":0.065},{"t0":4.7568,"t1":5.6569,"z0":0.0786,"z1":0.1221,"f":0.04},{"t0":4.7568,"t1":5.6569,"z0":0.1221,"z1":0.2189,"f":0.022},
{"t0":5.6569,"t1":6.7272,"z0":0.001,"z1":0.0019,"f":0.935},{"t0":5.6569,"t1":6.7272,"z0":0.0019,"z1":0.0028,"f":0.85},{"t0":5.6569,"t1":6.7272,"z0":0.0028,"z1":0.0037,"f":0.75},{"t0":5.6569,"t1":6.7272,"z0":0.0037,"z1":0.0046,"f":0.65},{"t0":5.6569,"t1":6.7272,"z0":0.0046,"z1":0.0056,"f":0.55},{"t0":5.6569,"t1":6.7272,"z0":0.0056,"z1":0.0077,"f":0.45},{"t0":5.6569,"t1":6.7272,"z0":0.0077,"z1":0.0108,"f":0.35},{"t0":5.6569,"t1":6.7272,"z0":0.0108,"z1":0.0165,"f":0.25},{"t0":5.6569,"t1":6.7272,"z0":0.0165,"z1":0.0246,"f":0.165},{"t0":5.6569,"t1":6.7272,"z0":0.0246,"z1":0.0374,"f":0.105},{"t0":5.6569,"t1":6.7272,"z0":0.0374,"z1":0.0552,"f":0.065},{"t0":5.6569,"t1":6.7272,"z0":0.0552,"z1":0.0835,"f":0.04},{"t0":5.6569,"t1":6.7272,"z0":0.0835,"z1":0.1447,"f":0.022},
{"t0":6.7272,"t1":8,"z0":0.001,"z1":0.0017,"f":0.935},{"t0":6.7272,"t1":8,"z0":0.0017,"z1":0.0025,"f":0.85},{"t0":6.7272,"t1":8,"z0":0.0025,"z1":0.0033,"f":0.75},{"t0":6.7272,"t1":8,"z0":0.0033,"z1":0.004,"f":0.65},{"t0":6.7272,"t1":8,"z0":0.004,"z1":0.0049,"f":0.55},{"t0":6.7272,"t1":8,"z0":0.0049,"z1":0.0065,"f":0.45},{"t0":6.7272,"t1":8,"z0":0.0065,"z1":0.0089,"f":0.35},{"t0":6.7272,"t1":8,"z0":0.0089,"z1":0.0131,"f":0.25},{"t0":6.7272,"t1":8,"z0":0.0131,"z1":0.0189,"f":0.165},{"t0":6.7272,"t1":8,"z0":0.0189,"z1":0.0278,"f":0.105},{"t0":6.7272,"t1":8,"z0":0.0278,"z1":0.0396,"f":0.065},{"t0":6.7272,"t1":8,"z0":0.0396,"z1":0.0578,"f":0.04},{"t0":6.7272,"t1":8,"z0":0.0578,"z1":0.0954,"f":0.022},
{"t0":8,"t1":11.3137,"z0":0.001,"z1":0.0015,"f":0.935},{"t0":8,"t1":11.3137,"z0":0.0015,"z1":0.0021,"f":0.85},{"t0":8,"t1":11.3137,"z0":0.0021,"z1":0.0027,"f":0.75},{"t0":8,"t1":11.3137,"z0":0.0027,"z1":0.0033,"f":0.65},{"t0":8,"t1":11.3137,"z0":0.0033,"z1":0.0039,"f":0.55},{"t0":8,"t1":11.3137,"z0":0.0039,"z1":0.005,"f":0.45},{"t0":8,"t1":11.3137,"z0":0.005,"z1":0.0067,"f":0.35},{"t0":8,"t1":11.3137,"z0":0.0067,"z1":0.0094,"f":0.25},{"t0":8,"t1":11.3137,"z0":0.0094,"z1":0.0131,"f":0.165},{"t0":8,"t1":11.3137,"z0":0.0131,"z1":0.0184,"f":0.105},{"t0":8,"t1":11.3137,"z0":0.0184,"z1":0.0253,"f":0.065},{"t0":8,"t1":11.3137,"z0":0.0253,"z1":0.0355,"f":0.04},{"t0":8,"t1":11.3137,"z0":0.0355,"z1":0.0556,"f":0.022},
{"t0":11.3137,"t1":16,"z0":0.001,"z1":0.0013,"f":0.935},{"t0":11.3137,"t1":16,"z0":0.0013,"z1":0.0018,"f":0.85},{"t0":11.3137,"t1":16,"z0":0.0018,"z1":0.0022,"f":0.75},{"t0":11.3137,"t1":16,"z0":0.0022,"z1":0.0026,"f":0.65},{"t0":11.3137,"t1":16,"z0":0.0026,"z1":0.003,"f":0.55},{"t0":11.3137,"t1":16,"z0":0.003,"z1":0.0036,"f":0.45},{"t0":11.3137,"t1":16,"z0":0.0036,"z1":0.0045,"f":0.35},{"t0":11.3137,"t1":16,"z0":0.0045,"z1":0.0058,"f":0.25},{"t0":11.3137,"t1":16,"z0":0.0058,"z1":0.0073,"f":0.165},{"t0":11.3137,"t1":16,"z0":0.0073,"z1":0.0095,"f":0.105},{"t0":11.3137,"t1":16,"z0":0.0095,"z1":0.012,"f":0.065},{"t0":11.3137,"t1":16,"z0":0.012,"z1":0.0154,"f":0.04},{"t0":11.3137,"t1":16,"z0":0.0154,"z1":0.0215,"f":0.022},
{"t0":16,"t1":32,"z0":0.001,"z1":0.0013,"f":0.935},{"t0":16,"t1":32,"z0":0.0013,"z1":0.0016,"f":0.85},{"t0":16,"t1":32,"z0":0.0016,"z1":0.0019,"f":0.75},{"t0":16,"t1":32,"z0":0.0019,"z1":0.0022,"f":0.65},{"t0":16,"t1":32,"z0":0.0022,"z1":0.0025,"f":0.55},{"t0":16,"t1":32,"z0":0.0025,"z1":0.0029,"f":0.45},{"t0":16,"t1":32,"z0":0.0029,"z1":0.0034,"f":0.35},{"t0":16,"t1":32,"z0":0.0034,"z1":0.0042,"f":0.25},{"t0":16,"t1":32,"z0":0.0042,"z1":0.0051,"f":0.165},{"t0":16,"t1":32,"z0":0.0051,"z1":0.0062,"f":0.105},{"t0":16,"t1":32,"z0":0.0062,"z1":0.0075,"f":0.065},{"t0":16,"t1":32,"z0":0.0075,"z1":0.0091,"f":0.04},{"t0":16,"t1":32,"z0":0.0091,"z1":0.0119,"f":0.022}
],
"contours":[
{"series":"0.05","t":0.186,"z":0.331},{"series":"0.05","t":0.193,"z":0.335},{"series":"0.05","t":0.216,"z":0.362},{"series":"0.05","t":0.27,"z":0.386},{"series":"0.05","t":0.351,"z":0.404},{"series":"0.05","t":0.435,"z":0.412},{"series":"0.05","t":0.535,"z":0.408},{"series":"0.05","t":0.719,"z":0.394},{"series":"0.05","t":0.877,"z":0.373},{"series":"0.05","t":0.967,"z":0.35},{"series":"0.05","t":1.131,"z":0.332},{"series":"0.05","t":1.425,"z":0.302},{"series":"0.05","t":1.522,"z":0.285},{"series":"0.05","t":1.981,"z":0.249},{"series":"0.05","t":2.473,"z":0.22},{"series":"0.05","t":2.685,"z":0.202},{"series":"0.05","t":2.916,"z":0.187},{"series":"0.05","t":3.218,"z":0.169},{"series":"0.05","t":3.437,"z":0.155},{"series":"0.05","t":3.795,"z":0.131},{"series":"0.05","t":4.586,"z":0.098},{"series":"0.05","t":5.408,"z":0.072},{"series":"0.05","t":6.373,"z":0.051},{"series":"0.05","t":7.961,"z":0.033},{"series":"0.05","t":12.62,"z":0.013},{"series":"0.05","t":17.4,"z":0.008},{"series":"0.05","t":30.2,"z":0.007},
{"series":"0.5","t":0.186,"z":0.102},{"series":"0.5","t":0.196,"z":0.104},{"series":"0.5","t":0.279,"z":0.113},{"series":"0.5","t":0.414,"z":0.119},{"series":"0.5","t":0.489,"z":0.119},{"series":"0.5","t":0.631,"z":0.115},{"series":"0.5","t":0.821,"z":0.106},{"series":"0.5","t":1.025,"z":0.089},{"series":"0.5","t":1.291,"z":0.075},{"series":"0.5","t":1.625,"z":0.058},{"series":"0.5","t":2.029,"z":0.041},{"series":"0.5","t":2.556,"z":0.031},{"series":"0.5","t":3.218,"z":0.018},{"series":"0.5","t":4.155,"z":0.0095},{"series":"0.5","t":5.587,"z":0.006},{"series":"0.5","t":9.08,"z":0.004},{"series":"0.5","t":12.62,"z":0.003},
{"series":"0.95","t":0.186,"z":0.026},{"series":"0.95","t":0.255,"z":0.035},{"series":"0.95","t":0.39,"z":0.039},{"series":"0.95","t":0.49,"z":0.037},{"series":"0.95","t":0.719,"z":0.027},{"series":"0.95","t":0.936,"z":0.017},{"series":"0.95","t":1.291,"z":0.0095},{"series":"0.95","t":1.79,"z":0.005},{"series":"0.95","t":2.916,"z":0.0025},{"series":"0.95","t":3.25,"z":0.002},
{"series":"AT 2017gfo","t":0.615,"z":0.249},{"series":"AT 2017gfo","t":1.69,"z":0.158},{"series":"AT 2017gfo","t":3.61,"z":0.051},{"series":"AT 2017gfo","t":6.59,"z":0.022},{"series":"AT 2017gfo","t":8.64,"z":0.022},{"series":"AT 2017gfo","t":9.86,"z":0.027}
],
"lum":[
{"dl":"0.1","z":0.0222},{"dl":"0.5","z":0.1047},{"dl":"1","z":0.1979},{"dl":"1.5","z":0.2832},{"dl":"2","z":0.3632},{"dl":"2.5","z":0.439}
]
},
"config":{
"font":"Liberation Serif, serif",
"view":{"stroke":"#000000","strokeWidth":1,"fill":"#000004"},
"axis":{"labelFont":"Liberation Serif, serif","titleFont":"Liberation Serif, serif","labelFontSize":28,"titleFontSize":28,"titleFontWeight":"normal","labelColor":"#000000","titleColor":"#000000","domainColor":"#000000","tickColor":"#000000","tickSize":5,"grid":false,"labelPadding":3,"labelOverlap":false,"labelFlush":false},
"legend":{"orient":"top-right","offset":15,"fillColor":"#555555","strokeColor":"#999999","cornerRadius":6,"padding":10,"labelFont":"Liberation Serif, serif","labelFontSize":28,"labelColor":"#dddddd","symbolType":"stroke","symbolSize":3249,"symbolStrokeWidth":5,"labelOffset":24,"rowPadding":12,"clipHeight":30,"labelLimit":300},
"title":{"font":"Liberation Serif, serif","fontSize":28,"fontWeight":"normal","color":"#000000"}
},
"resolve":{"scale":{"stroke":"independent","strokeDash":"independent"},"legend":{"stroke":"independent","strokeDash":"independent"}},
"hconcat":[
{
"width":618,"height":563,
"title":{"text":"LSST/𝑟-band","offset":-6,"anchor":"middle","frame":"group"},
"layer":[
{"layer":[
{"data":{"name":"heat"},
"mark":{"type":"rect","clip":true,"strokeWidth":0.8},
"encoding":{
"x":{"field":"t0","type":"quantitative","title":"Observer-Frame Time (d)","scale":{"type":"log","base":2,"domain":[0.186,30.2],"nice":false},"axis":{"values":[0.25,0.5,1,2,4,8,16],"format":"~g","titlePadding":6}},
"x2":{"field":"t1"},
"y":{"field":"z0","type":"quantitative","title":"Redshift","scale":{"domain":[0.001,0.5],"nice":false,"zero":false},"axis":{"values":[0.1,0.2,0.3,0.4,0.5],"format":".1f","titlePadding":10}},
"y2":{"field":"z1"},
"fill":{"field":"f","type":"quantitative","scale":{"scheme":"inferno","domain":[0,1]},"legend":null},
"stroke":{"field":"f","type":"quantitative","scale":{"scheme":"inferno","domain":[0,1]},"legend":null}
}},
{"data":{"name":"contours"},
"mark":{"type":"line","strokeWidth":5,"strokeCap":"butt","clip":true},
"encoding":{
"x":{"field":"t","type":"quantitative","title":"Observer-Frame Time (d)"},
"y":{"field":"z","type":"quantitative","title":"Redshift"},
"stroke":{"field":"series","type":"nominal","scale":{"domain":["0.05","0.5","0.95","AT 2017gfo"],"range":["#c0c0c0","#c0c0c0","#c0c0c0","#ff00ff"]},"legend":{"title":null}},
"strokeDash":{"field":"series","type":"nominal","scale":{"domain":["0.05","0.5","0.95","AT 2017gfo"],"range":[[22,10],[5,7],[40,10,6,10],[1,0]]},"legend":{"title":null}}
}}
],
"resolve":{"scale":{"stroke":"independent","strokeDash":"independent"},"legend":{"stroke":"independent","strokeDash":"independent"}}
},
{"data":{"name":"lum"},
"mark":{"type":"point","opacity":0},
"encoding":{
"y":{"field":"z","type":"quantitative","title":"Luminosity Distance [Gpc]","scale":{"domain":[0.001,0.5],"nice":false,"zero":false},"axis":{"orient":"right","values":[0.0222,0.1047,0.1979,0.2832,0.3632,0.439],"labelExpr":"datum.value < 0.05 ? '0.1' : datum.value < 0.15 ? '0.5' : datum.value < 0.24 ? '1' : datum.value < 0.32 ? '1.5' : datum.value < 0.4 ? '2' : '2.5'","titleAngle":270,"titleBaseline":"top","titlePadding":8}}
}}
],
"resolve":{"scale":{"y":"independent"}}
},
{
"width":28,"height":563,
"data":{"values":[{"lo":0,"hi":1}]},
"mark":{"type":"rect","fill":{"gradient":"linear","x1":0,"y1":1,"x2":0,"y2":0,"stops":[{"offset":0,"color":"#000004"},{"offset":0.1,"color":"#160b39"},{"offset":0.2,"color":"#420a68"},{"offset":0.3,"color":"#6a176e"},{"offset":0.4,"color":"#932667"},{"offset":0.5,"color":"#bc3754"},{"offset":0.6,"color":"#dd513a"},{"offset":0.7,"color":"#f37819"},{"offset":0.8,"color":"#fca50a"},{"offset":0.9,"color":"#f6d746"},{"offset":1,"color":"#fcffa4"}]}},
"encoding":{
"y":{"field":"lo","type":"quantitative","title":"Fraction Detectable","scale":{"domain":[0,1],"nice":false},"axis":{"orient":"right","values":[0,0.2,0.4,0.6,0.8,1],"format":".1f","titleAngle":270,"titleBaseline":"top","titlePadding":8}},
"y2":{"field":"hi"}
}
}
]
}
